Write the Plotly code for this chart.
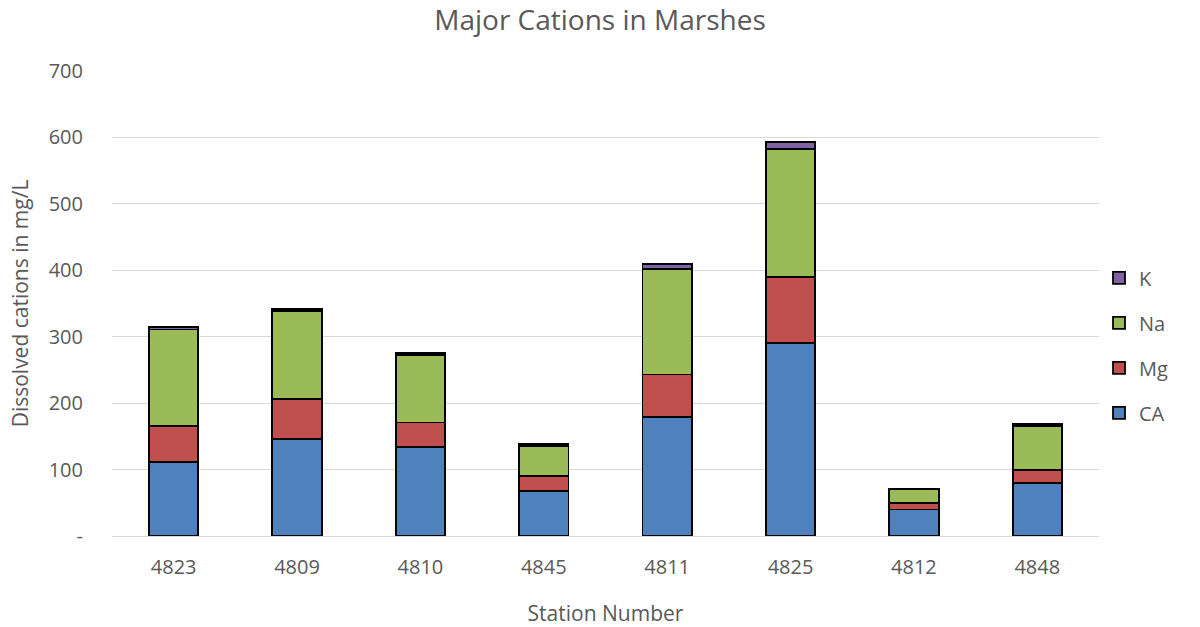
import plotly.graph_objects as go

stations = ["4823", "4809", "4810", "4845", "4811", "4825", "4812", "4848"]
ca = [111, 146, 134, 68, 179, 291, 40, 80]
mg = [54, 60, 37, 22, 64, 99, 10, 19]
na = [146, 133, 101, 45, 159, 193, 20, 66]
k = [4, 3, 3, 4, 7, 10, 1, 4]

y_ticks = [0, 100, 200, 300, 400, 500, 600, 700]
y_tick_text = ["-", "100", "200", "300", "400", "500", "600", "700"]

# stacked bottom-to-top; legend lists them top-to-bottom
series = [
    ("CA", ca, "#4f81bd", 4),
    ("Mg", mg, "#c0504d", 3),
    ("Na", na, "#9bbb59", 2),
    ("K", k, "#8064a2", 1),
]

font_family = "Open Sans, Liberation Sans, sans-serif"
text_color = "#595959"

fig = go.Figure()
for name, vals, color, rank in series:
    fig.add_trace(go.Bar(
        x=stations, y=vals, name=name, legendgroup=name, legendrank=rank,
        marker=dict(color=color, line=dict(color="black", width=1.8)),
    ))

fig.update_layout(
    barmode="stack",
    bargap=0.6,
    width=1200, height=627,
    margin=dict(l=112, r=101, t=71, b=91),
    paper_bgcolor="white", plot_bgcolor="white",
    font=dict(family=font_family, color=text_color, size=20),
    title=dict(text="Major Cations in Marshes", x=0.5, xanchor="center",
               y=0.968, yanchor="middle",
               font=dict(size=28, color=text_color)),
    legend=dict(traceorder="grouped", tracegroupgap=16,
                x=1.0, xanchor="left", y=0.41, yanchor="middle",
                font=dict(size=20, color=text_color)),
    xaxis=dict(type="category", showgrid=False, showline=True, automargin=False,
               linecolor="#d9d9d9", linewidth=1.3, ticks="",
               tickfont=dict(size=20), ticklabelstandoff=13,
               title=dict(text="Station Number", font=dict(size=21), standoff=28)),
    yaxis=dict(range=[0, 700], tickvals=y_ticks, ticktext=y_tick_text, automargin=False,
               showgrid=True, gridcolor="#d9d9d9", gridwidth=1.3,
               zeroline=False, ticks="", ticklabelstandoff=28,
               tickfont=dict(size=20),
               title=dict(text="Dissolved cations in mg/L", font=dict(size=21), standoff=14)),
)

fig.write_html("out.html")
